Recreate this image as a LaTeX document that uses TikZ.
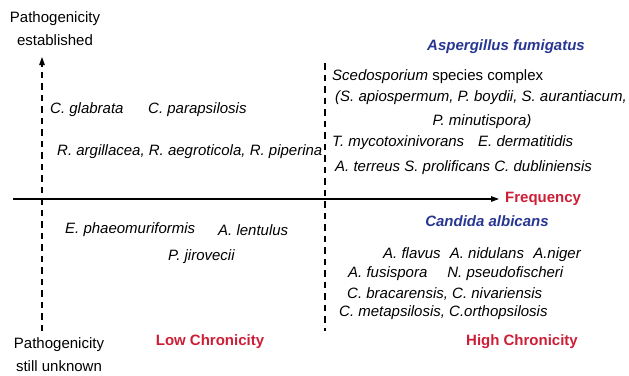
\documentclass[tikz,border=0pt]{standalone}
\usepackage{fontspec}
\setmainfont{Liberation Sans}
\usetikzlibrary{arrows.meta}
\definecolor{myred}{RGB}{205,30,55}
\definecolor{myblue}{RGB}{40,55,145}
\begin{document}
\begin{tikzpicture}[x=1pt,y=-1pt,
  sp/.style={inner sep=0pt, anchor=west, font=\fontsize{15}{17}\selectfont\itshape},
  plain/.style={inner sep=0pt, align=center, font=\fontsize{15}{23}\selectfont},
  redlbl/.style={inner sep=0pt, text=myred, font=\fontsize{15}{17}\selectfont\bfseries},
  bluelbl/.style={inner sep=0pt, text=myblue, font=\fontsize{15}{17}\selectfont\bfseries\itshape},
  dashline/.style={line width=1.2pt, dash pattern=on 6.5pt off 5pt},
  tip/.style={-{Triangle[length=8pt,width=5.5pt]}}]
\useasboundingbox (0,0) rectangle (629,375);
% axes
\coordinate (vb) at (42,331);
\coordinate (vt) at (42,57);
\coordinate (rt) at (325,63);
\coordinate (rb) at (325,331);
\coordinate (hl) at (13,199);
\coordinate (hr) at (499,199);
\draw[dashline, tip] (vb) -- (vt);
\draw[dashline] (rt) -- (rb);
\draw[line width=1.2pt, tip] (hl) -- (hr);
% axis labels
\node[plain] (pe) at (55,28.5) {Pathogenicity\\established};
\node[plain] (pu) at (59,354.5) {Pathogenicity\\still unknown};
\node[redlbl, anchor=west] (freq) at (505,199) {Frequency};
\node[redlbl] (low) at (210,342) {Low Chronicity};
\node[redlbl] (high) at (522,342) {High Chronicity};
% top left
\node[sp] (cg) at (50,110) {C. glabrata};
\node[sp] (cp) at (148,110) {C. parapsilosis};
\node[sp] (ra) at (57,152) {R. argillacea, R. aegroticola, R. piperina};
% top right
\node[bluelbl] (af) at (506,47) {Aspergillus fumigatus};
\node[sp] (sc) at (332,77) {Scedosporium\/ \upshape species complex};
\node[sp] (sa) at (335,98) {(S. apiospermum, P. boydii, S. aurantiacum,};
\node[sp, anchor=center] (pm) at (482,122) {P. minutispora)};
\node[sp] (tm) at (332,143) {T. mycotoxinivorans\hspace{14pt}E. dermatitidis};
\node[sp] (at) at (335,168) {A. terreus S. prolificans C. dubliniensis};
% bottom left
\node[sp] (ep) at (65,230) {E. phaeomuriformis};
\node[sp] (al) at (218,230) {A. lentulus};
\node[sp] (pj) at (168,257) {P. jirovecii};
% bottom right
\node[bluelbl] (ca) at (487,221) {Candida albicans};
\node[sp] (afl) at (383,255) {A. flavus\hspace{5pt} A. nidulans\hspace{5pt} A.niger};
\node[sp] (afu) at (348,274) {A. fusispora\hspace{20pt}N. pseudofischeri};
\node[sp] (cb) at (347,294) {C. bracarensis, C. nivariensis};
\node[sp] (cm) at (339,313) {C. metapsilosis, C.orthopsilosis};
\end{tikzpicture}
\end{document}
